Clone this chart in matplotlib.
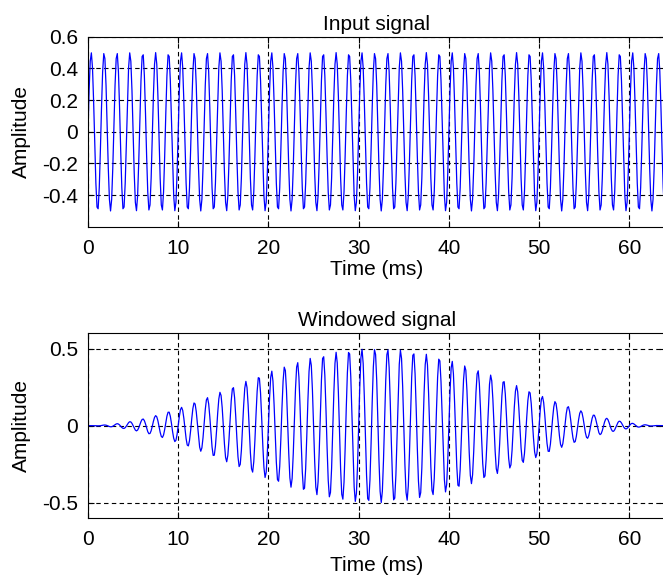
import numpy as np
import matplotlib
matplotlib.use("Agg")
import matplotlib.pyplot as plt

# signal settings
fs = 8000.0          # samples per second
tone_hz = 700.0      # about 7 cycles every 10 ms
amp = 0.5
n = 512              # 64 ms

xticks = [0, 10, 20, 30, 40, 50, 60]
yticks_in = [-0.4, -0.2, 0, 0.2, 0.4, 0.6]
yticks_win = [-0.5, 0, 0.5]
titles = ["Input signal", "Windowed signal"]

t_ms = np.arange(n) / fs * 1000.0
x = amp * np.sin(2 * np.pi * tone_hz * np.arange(n) / fs)
w = np.hanning(n)
xw = x * w

plt.rcParams["font.family"] = ["Liberation Sans", "DejaVu Sans"]
plt.rcParams["axes.unicode_minus"] = False
fsz = 15

fig = plt.figure(figsize=(6.63, 5.8), dpi=100)
ax1 = fig.add_axes([0.1327, 0.609, 0.871, 0.3276])
ax2 = fig.add_axes([0.1327, 0.1069, 0.871, 0.3185])


def style(ax, yt, title, lpad):
    ax.set_xlim(0, 64)
    ax.set_ylim(-0.6, 0.6)
    ax.set_xticks(xticks)
    ax.set_yticks(yt)
    ax.set_yticklabels(["0" if v == 0 else ("%g" % v) for v in yt])
    ax.grid(True, color="black", linestyle=(0, (4, 3)), linewidth=0.8)
    ax.tick_params(direction="in", top=True, right=True, length=4, width=0.8,
                   labelsize=fsz, pad=7)
    ax.tick_params(axis="x", pad=9)
    for s in ax.spines.values():
        s.set_linewidth(0.8)
    ax.set_title(title, fontsize=fsz, pad=5)
    ax.set_xlabel("Time (ms)", fontsize=fsz, labelpad=lpad)
    ax.set_ylabel("Amplitude", fontsize=fsz, labelpad=8)


ax1.plot(t_ms, x, color="blue", linewidth=0.9)
style(ax1, yticks_in, titles[0], 1)
ax2.plot(t_ms, xw, color="blue", linewidth=0.9)
style(ax2, yticks_win, titles[1], 5)

fig.savefig("out.png", dpi=100)
